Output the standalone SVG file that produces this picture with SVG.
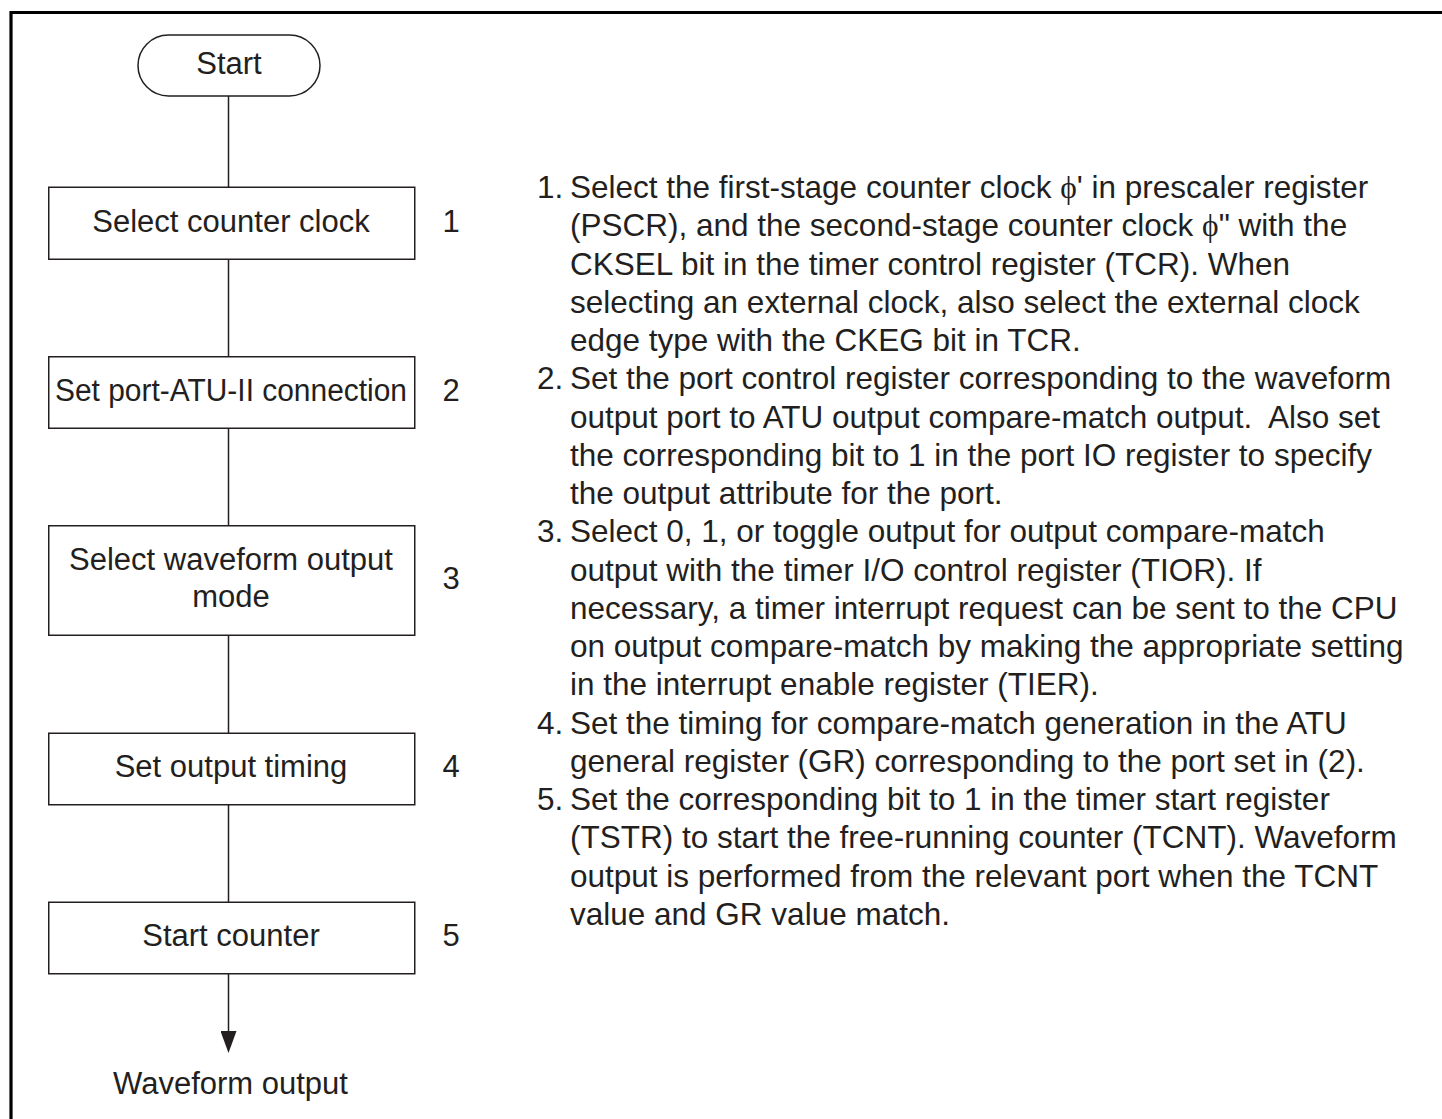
<svg xmlns="http://www.w3.org/2000/svg" width="1442" height="1119" viewBox="0 0 1442 1119">
<style>
text{font-family:"Liberation Sans",Arial,sans-serif;font-size:31px;fill:#231f20}
.c{text-anchor:middle}
.n text{font-size:31.5px}
.box{fill:#fff;stroke:#231f20;stroke-width:1.5}
.conn{stroke:#231f20;stroke-width:1.5;fill:none}
.phi{font-family:"Liberation Serif","DejaVu Serif",serif}
.pre{white-space:pre}
</style>
<defs>
<marker id="arr" markerUnits="userSpaceOnUse" markerWidth="22" markerHeight="16" viewBox="0 0 22 16" refX="14" refY="8" orient="auto">
<path d="M0,0 L22,8 L0,16 z" fill="#231f20"/>
</marker>
</defs>
<rect width="1442" height="1119" fill="#fff"/>
<path d="M11,1119 V12.5 H1442" fill="none" stroke="#000" stroke-width="3.2"/>
<g id="connectors">
<line class="conn" x1="228.5" y1="96" x2="228.5" y2="187"/>
<line class="conn" x1="228.5" y1="259" x2="228.5" y2="357"/>
<line class="conn" x1="228.5" y1="428.5" x2="228.5" y2="526"/>
<line class="conn" x1="228.5" y1="635.5" x2="228.5" y2="733.5"/>
<line class="conn" x1="228.5" y1="805" x2="228.5" y2="902.5"/>
<line class="conn" x1="228.5" y1="974" x2="228.5" y2="1045" marker-end="url(#arr)"/>
</g>
<g id="start">
<rect class="box" x="138" y="35" width="182" height="61" rx="30.5"/>
<text class="c" x="229" y="74">Start</text>
</g>
<g id="step1">
<rect class="box" x="48.75" y="187.25" width="366" height="72"/>
<text class="c" x="231" y="231.5">Select counter clock</text>
<text class="c" x="451" y="231.5">1</text>
</g>
<g id="step2">
<rect class="box" x="48.75" y="356.75" width="366" height="71.5"/>
<text class="c" x="231" y="401" textLength="352" lengthAdjust="spacingAndGlyphs">Set port-ATU-II connection</text>
<text class="c" x="451" y="401">2</text>
</g>
<g id="step3">
<rect class="box" x="48.75" y="525.75" width="366" height="109.5"/>
<text class="c" x="231" y="569.5">Select waveform output</text>
<text class="c" x="231" y="606.5">mode</text>
<text class="c" x="451" y="588.5">3</text>
</g>
<g id="step4">
<rect class="box" x="48.75" y="733.25" width="366" height="71.5"/>
<text class="c" x="231" y="776.5">Set output timing</text>
<text class="c" x="451" y="776.5">4</text>
</g>
<g id="step5">
<rect class="box" x="48.75" y="902.25" width="366" height="71.5"/>
<text class="c" x="231" y="946">Start counter</text>
<text class="c" x="451" y="946">5</text>
</g>
<g id="end">
<text class="c" x="230.5" y="1094">Waveform output</text>
</g>
<g id="notes" class="n">
<text x="537" y="198">1.</text>
<text x="570" y="198">Select the first-stage counter clock <tspan class="phi">ϕ</tspan>' in prescaler register</text>
<text x="570" y="236.25">(PSCR), and the second-stage counter clock <tspan class="phi">ϕ</tspan>" with the</text>
<text x="570" y="274.5">CKSEL bit in the timer control register (TCR). When</text>
<text x="570" y="312.75">selecting an external clock, also select the external clock</text>
<text x="570" y="351">edge type with the CKEG bit in TCR.</text>
<text x="537" y="389.25">2.</text>
<text x="570" y="389.25">Set the port control register corresponding to the waveform</text>
<text class="pre" x="570" y="427.5">output port to ATU output compare-match output.  Also set</text>
<text x="570" y="465.75">the corresponding bit to 1 in the port IO register to specify</text>
<text x="570" y="504">the output attribute for the port.</text>
<text x="537" y="542.25">3.</text>
<text x="570" y="542.25">Select 0, 1, or toggle output for output compare-match</text>
<text x="570" y="580.5">output with the timer I/O control register (TIOR). If</text>
<text x="570" y="618.75">necessary, a timer interrupt request can be sent to the CPU</text>
<text x="570" y="657">on output compare-match by making the appropriate setting</text>
<text x="570" y="695.25">in the interrupt enable register (TIER).</text>
<text x="537" y="733.5">4.</text>
<text x="570" y="733.5">Set the timing for compare-match generation in the ATU</text>
<text x="570" y="771.75">general register (GR) corresponding to the port set in (2).</text>
<text x="537" y="810">5.</text>
<text x="570" y="810">Set the corresponding bit to 1 in the timer start register</text>
<text x="570" y="848.25">(TSTR) to start the free-running counter (TCNT). Waveform</text>
<text x="570" y="886.5">output is performed from the relevant port when the TCNT</text>
<text x="570" y="924.75">value and GR value match.</text>
</g>
</svg>
